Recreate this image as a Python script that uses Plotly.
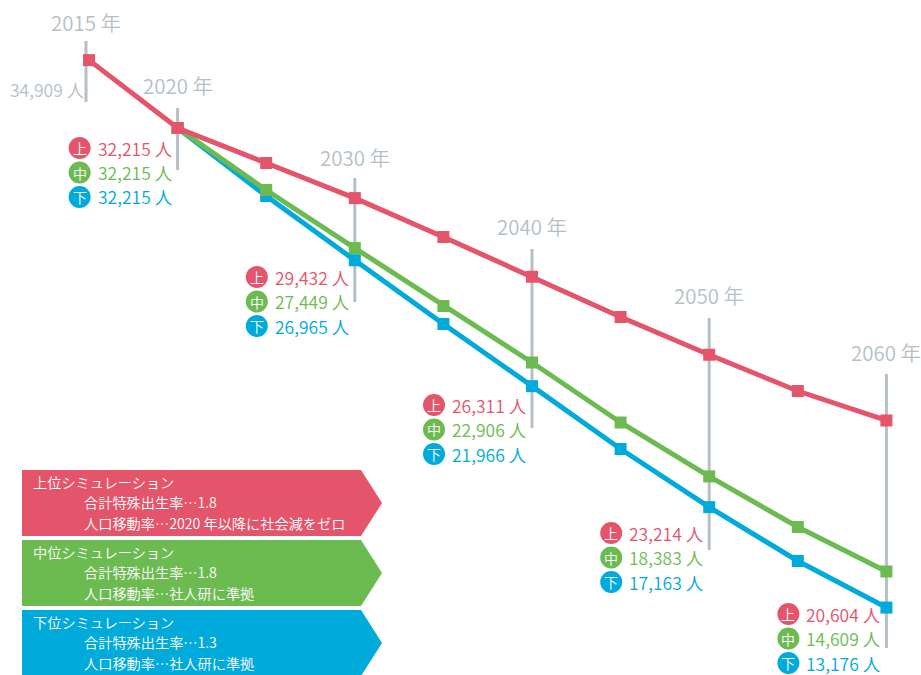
import plotly.graph_objects as go

# ---------------- data ----------------
years = [2015, 2020, 2025, 2030, 2035, 2040, 2045, 2050, 2055, 2060]
upper = [34909, 32215, 30825, 29432, 27888, 26311, 24712, 23214, 21774, 20604]
middle = [None, 32215, 29754, 27449, 25148, 22906, 20523, 18383, 16375, 14609]
lower = [None, 32215, 29515, 26965, 24434, 21966, 19471, 17163, 15025, 13176]

label_years = [2015, 2020, 2030, 2040, 2050, 2060]
series_names = ["上", "中", "下"]
legend_titles = ["上位シミュレーション", "中位シミュレーション", "下位シミュレーション"]
legend_line2 = ["合計特殊出生率…1.8", "合計特殊出生率…1.8", "合計特殊出生率…1.3"]
legend_line3 = ["人口移動率…2020 年以降に社会減をゼロ", "人口移動率…社人研に準拠", "人口移動率…社人研に準拠"]

# ---------------- style ----------------
W, H = 921, 675
RED, GREEN, BLUE = "#e4546a", "#6cbb51", "#00aadb"
GRAY = "#b5bfc7"
COLORS = [RED, GREEN, BLUE]
FONT = "Noto Sans CJK JP"
LIGHT = 350

def py(p):
    return 1 - p / H

def px(p):
    return p / W

# layout positions (pixels)
year_label_y = {2015: 22, 2020: 85, 2030: 157, 2040: 226, 2050: 295, 2060: 352}
vline_span = {2015: (41, 102), 2020: (108, 170), 2030: (178, 302), 2040: (249, 428),
              2050: (318, 550), 2060: (374, 648)}
vline_shift = {2015: -3}
value_label_top = {2020: 148, 2030: 277, 2040: 405, 2050: 533, 2060: 614}
ROW = 24.5

fig = go.Figure()
for name, vals, col in [("下", lower, BLUE), ("中", middle, GREEN), ("上", upper, RED)]:
    fig.add_trace(go.Scatter(
        x=years, y=vals, mode="lines+markers", name=name,
        line=dict(color=col, width=5),
        marker=dict(symbol="square", size=12, color=col),
        connectgaps=False, showlegend=False, hoverinfo="skip"))

shapes = []
annotations = []

# vertical year markers and year labels
for yr in label_years:
    y0, y1 = vline_span[yr]
    s = vline_shift.get(yr, 0)
    shapes.append(dict(type="line", xref="x", yref="paper", xsizemode="pixel", xanchor=yr,
                       x0=s, x1=s, y0=py(y1), y1=py(y0),
                       line=dict(color=GRAY, width=3), layer="below"))
    annotations.append(dict(x=yr, y=py(year_label_y[yr]), xref="x", yref="paper",
                            xanchor="center", yanchor="middle", xshift=s,
                            text=f"{yr} 年", showarrow=False, borderpad=0,
                            font=dict(family=FONT, size=20.5, color=GRAY, weight=LIGHT)))

# 2015 starting value
annotations.append(dict(x=years[0], y=py(89), xref="x", yref="paper", xanchor="right",
                        yanchor="middle", xshift=-4, text=f"{upper[0]:,} 人", showarrow=False,
                        borderpad=0,
                        font=dict(family=FONT, size=17.5, color=GRAY, weight=LIGHT)))

# value labels per decade
all_series = [upper, middle, lower]
for yr, top in value_label_top.items():
    i = years.index(yr)
    for k, (ser, col, nm) in enumerate(zip(all_series, COLORS, series_names)):
        yc = py(top + k * ROW)
        shapes.append(dict(type="circle", xref="x", yref="paper", xsizemode="pixel",
                           ysizemode="pixel", xanchor=yr, yanchor=yc,
                           x0=-109, x1=-87, y0=-11, y1=11,
                           fillcolor=col, line=dict(width=0)))
        annotations.append(dict(x=yr, y=yc, xref="x", yref="paper", xanchor="center",
                                yanchor="middle", xshift=-98, text=nm, showarrow=False,
                                borderpad=0,
                                font=dict(family=FONT, size=14, color="white", weight=LIGHT)))
        annotations.append(dict(x=yr, y=yc, xref="x", yref="paper", xanchor="left",
                                yanchor="middle", xshift=-81, text=f"{ser[i]:,} 人",
                                showarrow=False, borderpad=0,
                                font=dict(family=FONT, size=17.5, color=col, weight=LIGHT)))

# legend arrows
box_tops = [470, 540, 610]
legend_line_offsets = [11.5, 32.2, 52.8]
for k, col in enumerate(COLORS):
    t = box_tops[k]
    b = t + 66
    m = (t + b) / 2
    path = (f"M {px(22)},{py(t)} L {px(361)},{py(t)} L {px(382)},{py(m)} "
            f"L {px(361)},{py(b)} L {px(22)},{py(b)} Z")
    shapes.append(dict(type="path", xref="paper", yref="paper", path=path,
                       fillcolor=col, line=dict(width=0)))
    for txt, xpix, off in [(legend_titles[k], 32, legend_line_offsets[0]),
                           (legend_line2[k], 83, legend_line_offsets[1]),
                           (legend_line3[k], 83, legend_line_offsets[2])]:
        annotations.append(dict(x=px(xpix), y=py(t + off), xref="paper", yref="paper",
                                xanchor="left", yanchor="middle", text=txt,
                                showarrow=False, borderpad=0,
                                font=dict(family=FONT, size=14.2, color="white", weight=LIGHT)))

# axis ranges mapping years/values onto the canvas
px_per_year = 88.6 / 5
x_left = 2015 - 89 / px_per_year
x_right = 2015 + (W - 89) / px_per_year
val_per_px = 39.7
y_top = 32215 + 128 * val_per_px
y_bottom = 32215 - (H - 128) * val_per_px

fig.update_layout(
    width=W, height=H,
    margin=dict(l=0, r=0, t=0, b=0),
    paper_bgcolor="white", plot_bgcolor="white",
    xaxis=dict(range=[x_left, x_right], visible=False, fixedrange=True),
    yaxis=dict(range=[y_bottom, y_top], visible=False, fixedrange=True),
    shapes=shapes, annotations=annotations,
    font=dict(family=FONT),
)

fig.write_html(
    "out.html",
    config={"displayModeBar": False},
    post_script="document.body.style.margin='0';document.body.style.padding='0';"
                "document.body.style.overflow='hidden';",
)
